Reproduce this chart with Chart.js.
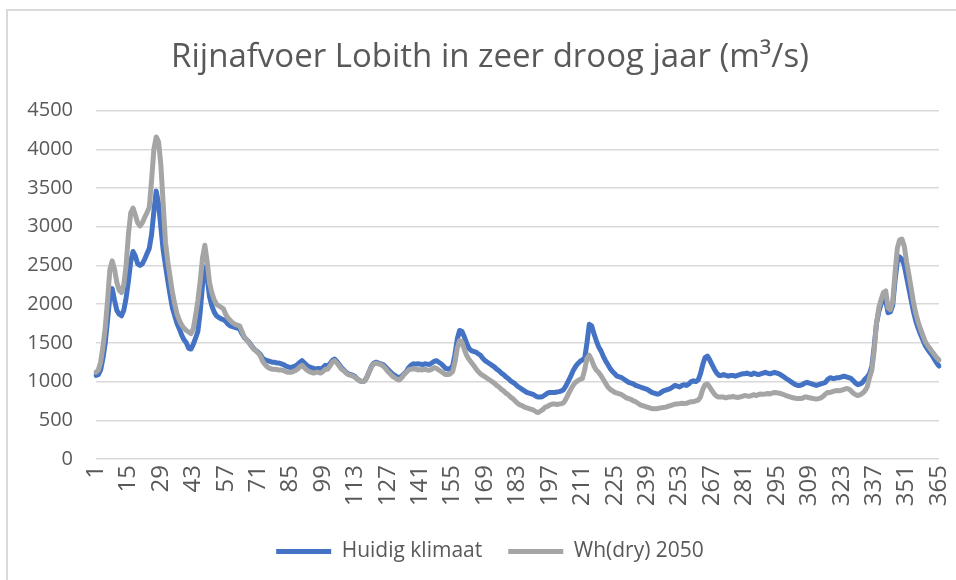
<!DOCTYPE html>
<html lang="nl">
<head>
    <meta charset="UTF-8">
    <title>Rijnafvoer Lobith</title>
    <style>
        body {
            margin: 0;
            background: #fff;
            font-family: 'Open Sans', sans-serif;
        }

        .chart-wrap {
            position: relative;
            width: 956px;
            height: 580px;
            overflow: hidden;
        }

        /* light chart-area frame, right and bottom edge fall outside the picture */
        .frame {
            position: absolute;
            left: 6px;
            top: 9px;
            width: 980px;
            height: 600px;
            border-top: 2px solid #d9d9d9;
            border-left: 2px solid #d9d9d9;
        }

        canvas {
            position: absolute;
            left: 0;
            top: 0;
        }
    </style>
    <script src="https://cdn.jsdelivr.net/npm/chart.js"></script>
</head>
<body>
    <div class="chart-wrap">
        <div class="frame"></div>
        <!-- the chart area is a bit wider than the crop, so title and legend centre further right -->
        <canvas id="afvoerChart" width="973" height="580"></canvas>
    </div>
    <script>
        // dagen 1..365
        const days = [];
        for (let d = 1; d <= 365; d++) days.push(String(d));

        // Huidig klimaat (m3/s), per dag, rijen van 14 dagen
        const huidigKlimaat = [
            1080, 1090, 1150, 1300, 1500, 1800, 2100, 2200, 2050, 1920, 1870, 1850, 1920, 2080,
            2300, 2550, 2680, 2620, 2520, 2500, 2520, 2580, 2650, 2720, 2900, 3200, 3460, 3300,
            3000, 2700, 2500, 2300, 2120, 1950, 1850, 1750, 1680, 1600, 1540, 1500, 1430, 1420,
            1480, 1560, 1650, 1900, 2250, 2480, 2350, 2100, 1980, 1900, 1850, 1830, 1810, 1800,
            1780, 1740, 1720, 1710, 1700, 1690, 1680, 1620, 1570, 1540, 1510, 1470, 1430, 1400,
            1380, 1350, 1300, 1280, 1270, 1260, 1250, 1250, 1240, 1240, 1230, 1220, 1200, 1190,
            1180, 1190, 1200, 1220, 1250, 1270, 1240, 1210, 1190, 1180, 1170, 1160, 1170, 1160,
            1180, 1210, 1200, 1230, 1270, 1290, 1260, 1220, 1180, 1150, 1120, 1100, 1090, 1080,
            1060, 1030, 1010, 1000, 1010, 1060, 1130, 1200, 1240, 1250, 1240, 1230, 1220, 1190,
            1160, 1130, 1100, 1080, 1060, 1050, 1070, 1100, 1130, 1180, 1210, 1230, 1225, 1230,
            1225, 1220, 1230, 1225, 1220, 1240, 1260, 1270, 1250, 1230, 1200, 1170, 1160, 1170,
            1200, 1350, 1550, 1660, 1650, 1580, 1500, 1430, 1400, 1390, 1380, 1360, 1340, 1300,
            1270, 1250, 1230, 1210, 1190, 1160, 1140, 1110, 1090, 1060, 1040, 1010, 990, 970,
            940, 920, 900, 880, 860, 850, 840, 830, 810, 800, 800, 810, 830, 850,
            860, 860, 860, 865, 870, 880, 900, 950, 1010, 1070, 1140, 1190, 1230, 1260,
            1280, 1300, 1500, 1740, 1720, 1620, 1530, 1450, 1400, 1330, 1270, 1220, 1170, 1130,
            1100, 1070, 1060, 1050, 1030, 1010, 990, 980, 970, 950, 940, 930, 920, 910,
            900, 880, 860, 850, 840, 840, 860, 880, 890, 900, 910, 930, 950, 940,
            930, 950, 960, 950, 970, 1000, 1010, 1000, 1020, 1100, 1220, 1310, 1330, 1280,
            1220, 1160, 1110, 1080, 1080, 1090, 1080, 1070, 1080, 1080, 1070, 1080, 1090, 1100,
            1100, 1110, 1100, 1090, 1110, 1100, 1090, 1100, 1110, 1120, 1110, 1100, 1110, 1120,
            1110, 1100, 1080, 1060, 1040, 1020, 1000, 980, 960, 950, 950, 960, 980, 990,
            980, 970, 960, 950, 960, 970, 980, 990, 1030, 1050, 1040, 1040, 1050, 1050,
            1060, 1070, 1060, 1050, 1040, 1010, 980, 960, 970, 990, 1030, 1060, 1100, 1200,
            1450, 1750, 1900, 2000, 2080, 2050, 1890, 1900, 1980, 2300, 2550, 2610, 2580, 2500,
            2350, 2200, 2050, 1900, 1780, 1690, 1610, 1540, 1470, 1420, 1380, 1340, 1290, 1240,
            1200
        ];

        // Wh(dry) 2050 (m3/s)
        const whDry2050 = [
            1120, 1150, 1250, 1450, 1700, 2050, 2450, 2560, 2450, 2280, 2180, 2150, 2250, 2500,
            2900, 3180, 3240, 3150, 3050, 3010, 3050, 3120, 3180, 3250, 3600, 4000, 4160, 4100,
            3800, 3300, 2800, 2550, 2350, 2150, 2000, 1870, 1790, 1730, 1690, 1660, 1640, 1620,
            1680, 1850, 2050, 2300, 2600, 2760, 2550, 2280, 2150, 2060, 2000, 1980, 1960, 1940,
            1870, 1820, 1790, 1760, 1740, 1730, 1720, 1650, 1580, 1540, 1500, 1460, 1420, 1400,
            1370, 1330, 1260, 1220, 1190, 1170, 1160, 1160, 1155, 1150, 1150, 1140, 1130, 1120,
            1120, 1130, 1140, 1160, 1190, 1210, 1180, 1150, 1130, 1120, 1110, 1120, 1120, 1110,
            1130, 1160, 1160, 1200, 1250, 1270, 1240, 1200, 1160, 1140, 1110, 1090, 1080, 1070,
            1050, 1030, 1010, 1000, 1010, 1060, 1130, 1190, 1230, 1240, 1230, 1220, 1200, 1170,
            1130, 1100, 1070, 1050, 1030, 1020, 1050, 1090, 1120, 1150, 1160, 1165, 1160, 1150,
            1155, 1150, 1160, 1150, 1145, 1160, 1180, 1170, 1150, 1130, 1110, 1090, 1090, 1100,
            1130, 1250, 1430, 1530, 1510, 1420, 1340, 1290, 1250, 1210, 1170, 1130, 1100, 1080,
            1060, 1040, 1020, 1000, 980, 950, 930, 900, 880, 850, 830, 800, 780, 750,
            720, 700, 690, 670, 660, 650, 640, 630, 610, 600, 620, 640, 670, 680,
            700, 710, 710, 705, 710, 715, 730, 780, 840, 900, 950, 990, 1010, 1030,
            1040, 1150, 1300, 1340, 1280, 1200, 1150, 1120, 1080, 1030, 980, 930, 900, 880,
            860, 850, 840, 830, 810, 790, 780, 770, 750, 740, 720, 700, 690, 680,
            670, 660, 650, 650, 650, 655, 660, 665, 670, 680, 690, 700, 710, 710,
            715, 720, 715, 720, 730, 740, 740, 750, 760, 800, 900, 960, 970, 930,
            880, 840, 810, 800, 800, 800, 790, 800, 800, 810, 800, 795, 800, 810,
            820, 815, 810, 820, 830, 820, 830, 840, 835, 840, 845, 840, 850, 860,
            855, 850, 840, 830, 820, 810, 800, 790, 785, 780, 780, 785, 800, 800,
            790, 785, 780, 775, 780, 790, 810, 840, 860, 860, 870, 880, 885, 880,
            890, 900, 910, 905, 880, 850, 830, 820, 830, 850, 880, 930, 1050, 1150,
            1400, 1750, 1950, 2060, 2150, 2170, 1950, 1930, 2030, 2400, 2720, 2830, 2840, 2750,
            2550, 2380, 2200, 2020, 1880, 1770, 1680, 1600, 1520, 1470, 1430, 1390, 1350, 1310,
            1280
        ];

        const yTicks = [0, 500, 1000, 1500, 2000, 2500, 3000, 3500, 4000, 4500];

        const textColor = '#595959';
        const ctx = document.getElementById('afvoerChart').getContext('2d');

        new Chart(ctx, {
            type: 'line',
            data: {
                labels: days,
                datasets: [{
                    label: 'Huidig klimaat',
                    data: huidigKlimaat,
                    borderColor: '#4472C4',
                    backgroundColor: '#4472C4',
                    borderWidth: 5,
                    pointRadius: 0,
                    tension: 0,
                    borderJoinStyle: 'round',
                    borderCapStyle: 'round',
                    order: 1
                }, {
                    label: 'Wh(dry) 2050',
                    data: whDry2050,
                    borderColor: '#A5A5A5',
                    backgroundColor: '#A5A5A5',
                    borderWidth: 5,
                    pointRadius: 0,
                    tension: 0,
                    borderJoinStyle: 'round',
                    borderCapStyle: 'round',
                    order: 0 // grijze lijn bovenop
                }]
            },
            options: {
                responsive: false,
                animation: false,
                devicePixelRatio: 1,
                layout: {
                    padding: { left: 7, right: 0, top: 0, bottom: 8 }
                },
                plugins: {
                    title: {
                        display: true,
                        text: 'Rijnafvoer Lobith in zeer droog jaar (m³/s)',
                        color: textColor,
                        font: { family: 'Open Sans', size: 33, weight: 'normal' },
                        padding: { top: 38, bottom: 33 }
                    },
                    legend: {
                        position: 'bottom',
                        labels: {
                            color: textColor,
                            font: { family: 'Open Sans', size: 21 },
                            usePointStyle: true,
                            pointStyle: 'line',
                            pointStyleWidth: 55,
                            padding: 26,
                            sort: (a, b) => a.datasetIndex - b.datasetIndex
                        }
                    },
                    tooltip: { enabled: false }
                },
                scales: {
                    x: {
                        offset: false,
                        grid: { display: false, drawTicks: false },
                        border: { display: false },
                        ticks: {
                            autoSkip: false,
                            maxRotation: 90,
                            minRotation: 90,
                            padding: 6,
                            color: textColor,
                            font: { family: 'Open Sans', size: 24 },
                            callback: function (val, index) {
                                return index % 14 === 0 ? this.getLabelForValue(val) : '';
                            }
                        },
                        afterFit: function (scale) {
                            scale.height = 56;
                            scale.paddingLeft = 0;
                            scale.paddingRight = 0;
                        }
                    },
                    y: {
                        min: 0,
                        max: 4500,
                        afterBuildTicks: function (scale) {
                            scale.ticks = yTicks.map(v => ({ value: v }));
                        },
                        grid: { color: '#d9d9d9', lineWidth: 1.5, drawTicks: false },
                        border: { display: false },
                        ticks: {
                            padding: 23,
                            color: textColor,
                            font: { family: 'Open Sans', size: 20 },
                            callback: v => String(v)
                        },
                        afterFit: function (scale) {
                            scale.width = 89;
                        }
                    },
                    // empty right-hand strip, keeps the plot ending at the same place
                    rightPad: {
                        type: 'linear',
                        position: 'right',
                        grid: { display: false, drawTicks: false },
                        border: { display: false },
                        ticks: { display: false },
                        afterFit: function (scale) {
                            scale.width = 34;
                        }
                    }
                }
            }
        });
    </script>
</body>
</html>
